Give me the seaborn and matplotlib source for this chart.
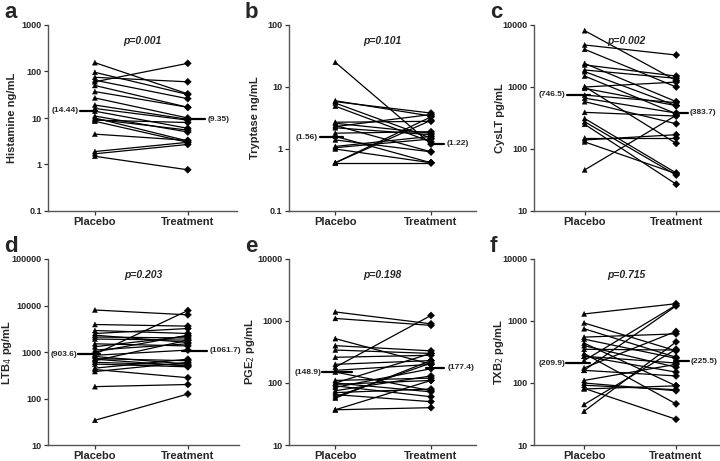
import numpy as np
import pandas as pd
import matplotlib
matplotlib.use("Agg")
import matplotlib.pyplot as plt
import matplotlib.ticker as mticker
import seaborn as sns

sns.set_theme(style="white")
plt.rcParams['font.family'] = ['Liberation Sans', 'DejaVu Sans']

categories = ["Placebo", "Treatment"]

# ---- panel data (placebo, treatment per subject) ----
hist_placebo = [155, 96, 60, 75, 50, 37, 27, 19, 16, 14, 11, 10, 9, 8.5, 4.5, 1.9, 1.7, 1.5, 65, 9.4]
hist_treat   = [33, 32, 150, 60, 17, 17, 10, 9.35, 9, 6, 5, 3.2, 8, 3, 3.3, 3, 2.7, 0.77, 26, 5.5]

tryp_placebo = [25, 6.0, 5.8, 5.5, 4.9, 2.7, 2.6, 2.4, 2.3, 2.2, 1.8, 1.6, 1.4, 1.1, 1.0, 0.6, 0.6, 0.6, 1.05]
tryp_treat   = [1.2, 3.4, 3.8, 1.5, 1.3, 2.8, 1.8, 0.9, 3.6, 1.7, 1.9, 0.6, 0.9, 1.6, 0.6, 3.3, 0.6, 2.9, 1.45]

cys_placebo = [8100, 4760, 4050, 2400, 2270, 1880, 1770, 1500, 1010, 1000, 950, 740, 660, 580, 390, 310, 275, 250, 150, 140, 130, 46]
cys_treat   = [1270, 3280, 1000, 580, 1500, 1380, 500, 370, 123, 1200, 500, 560, 380, 255, 340, 41, 38, 27, 150, 170, 40, 350]

ltb_placebo = [8000, 3900, 2900, 2500, 2300, 2100, 1900, 1500, 1300, 1100, 900, 850, 800, 720, 650, 600, 550, 450, 420, 380, 180, 34, 1000, 700]
ltb_treat   = [6300, 3600, 2500, 3200, 1600, 2000, 1800, 1350, 2200, 1500, 7800, 1100, 550, 650, 1800, 520, 480, 700, 280, 600, 200, 125, 2300, 500]

pge_placebo = [1400, 1100, 520, 400, 340, 260, 200, 180, 160, 110, 100, 95, 90, 85, 75, 70, 65, 60, 57, 37, 37, 150, 100]
pge_treat   = [900, 850, 200, 330, 300, 280, 230, 1230, 200, 120, 300, 110, 60, 170, 130, 80, 50, 210, 230, 40, 110, 75, 72]

txb_placebo = [1300, 930, 750, 550, 510, 440, 400, 350, 300, 270, 230, 175, 160, 160, 110, 100, 92, 82, 80, 45, 35, 270]
txb_treat   = [1900, 330, 260, 620, 250, 90, 180, 340, 46, 150, 1800, 680, 1750, 130, 200, 75, 78, 26, 90, 350, 460, 210]

medians = {
    "a": (14.44, 9.35), "b": (1.56, 1.22), "c": (746.5, 383.7),
    "d": (903.6, 1061.7), "e": (148.9, 177.4), "f": (209.9, 225.5),
}
median_labels = {
    "a": ("(14.44)", "(9.35)"), "b": ("(1.56)", "(1.22)"), "c": ("(746.5)", "(383.7)"),
    "d": ("(903.6)", "(1061.7)"), "e": ("(148.9)", "(177.4)"), "f": ("(209.9)", "(225.5)"),
}
pvals = {"a": "p=0.001", "b": "p=0.101", "c": "p=0.002", "d": "p=0.203", "e": "p=0.198", "f": "p=0.715"}
ylabels = {"a": "Histamine ng/mL", "b": "Tryptase ng/mL", "c": "CysLT pg/mL",
           "d": "LTB$_4$ pg/mL", "e": "PGE$_2$ pg/mL", "f": "TXB$_2$ pg/mL"}
ylims = {"a": (0.1, 1000), "b": (0.1, 100), "c": (10, 10000),
         "d": (10, 100000), "e": (10, 10000), "f": (10, 10000)}
data = {"a": (hist_placebo, hist_treat), "b": (tryp_placebo, tryp_treat), "c": (cys_placebo, cys_treat),
        "d": (ltb_placebo, ltb_treat), "e": (pge_placebo, pge_treat), "f": (txb_placebo, txb_treat)}

# layout in pixels: left, right, top, bottom, xlim0, xlim1, ylabel centre x, category spacing
W, H = 720, 461
layout = {
    "a": (48, 237, 25, 211, -0.505, 1.53, 12, 93),
    "b": (289, 476, 25, 211, -0.484, 1.47, 255, 95),
    "c": (534, 719, 25, 211, -0.554, 1.467, 500, 92),
    "d": (48, 239, 259, 445, -0.505, 1.55, 7, 93),
    "e": (289, 476, 259, 445, -0.484, 1.47, 250, 95),
    "f": (534, 719, 259, 445, -0.545, 1.467, 499, 93),
}
# median bar pixel offsets: (placebo bar from, to, text end), (treat bar from, to, text start)
median_px = {
    "a": ((-15, 2, -16), (-5, 17, 20)),
    "b": ((-15, 8, -17), (0, 13, 15)),
    "c": ((-18, 5, -19), (0, 12, 13)),
    "d": ((-17, 5, -18), (-6, 19, 22)),
    "e": ((-13, 17, -14), (-5, 13, 16)),
    "f": ((-18, 6, -19), (-2, 13, 15)),
}

fig = plt.figure(figsize=(7.2, 4.61), dpi=100)
for key in "abcdef":
    l, r, t, b, x0, x1, ylx, sp = layout[key]
    ax = fig.add_axes([l / W, 1 - b / H, (r - l) / W, (b - t) / H])
    pl, tr = data[key]
    n = len(pl)
    df = pd.DataFrame({
        "subject": list(range(n)) * 2,
        "cond": ["Placebo"] * n + ["Treatment"] * n,
        "pos": [0] * n + [1] * n,
        "value": list(pl) + list(tr),
    })
    sns.lineplot(data=df, x="pos", y="value", units="subject", estimator=None,
                 color="black", lw=0.9, ax=ax, legend=False)
    sns.scatterplot(data=df, x="pos", y="value", style="cond",
                    markers={"Placebo": "^", "Treatment": "D"},
                    color="black", s=13, edgecolor="black", linewidth=0.3, ax=ax, legend=False)
    mp, mt = medians[key]
    (pa, pb, pt), (ta, tb, tt) = median_px[key]
    ax.plot([pa / sp, pb / sp], [mp, mp], color="black", lw=1.6)
    ax.plot([1 + ta / sp, 1 + tb / sp], [mt, mt], color="black", lw=1.6)
    lp, lt = median_labels[key]
    ax.text(pt / sp, mp, lp, ha="right", va="center", fontsize=6, fontweight="bold")
    ax.text(1 + tt / sp, mt, lt, ha="left", va="center", fontsize=6, fontweight="bold")

    ax.set_yscale("log")
    ax.set_ylim(*ylims[key])
    ax.set_xlim(x0, x1)
    ax.yaxis.set_major_locator(mticker.LogLocator(base=10, numticks=10))
    ax.yaxis.set_minor_locator(mticker.NullLocator())
    ax.yaxis.set_major_formatter(mticker.FuncFormatter(lambda v, p: "%g" % v))
    ax.set_xticks([0, 1])
    ax.set_xticklabels(categories, fontsize=8, fontweight="bold")
    for lab in ax.get_yticklabels():
        lab.set_fontsize(6.5)
        lab.set_fontweight("bold")
    ax.tick_params(axis="y", which="major", length=3, width=0.9, color="#333333", pad=1.5, left=True)
    ax.tick_params(axis="x", which="major", length=3, width=0.9, color="#333333", pad=1, bottom=True)
    ax.set_xlabel("")
    ax.set_ylabel(ylabels[key], fontsize=8, fontweight="bold", va="center")
    ax.yaxis.set_label_coords((ylx - l) / (r - l), 0.5)
    for s in ["top", "right"]:
        ax.spines[s].set_visible(False)
    for s in ["left", "bottom"]:
        ax.spines[s].set_color("#555555")
        ax.spines[s].set_linewidth(1.0)
    ax.text(0.5, 0.915, pvals[key], transform=ax.transAxes, ha="center", va="center",
            fontsize=7.5, fontweight="bold", style="italic")
    ax.set_facecolor("white")
    fig.text((l - 44) / W, 1 - (t - 13) / H, key, fontsize=16, fontweight="bold",
             ha="left", va="center")

fig.savefig("out.png", dpi=100, facecolor="white")
